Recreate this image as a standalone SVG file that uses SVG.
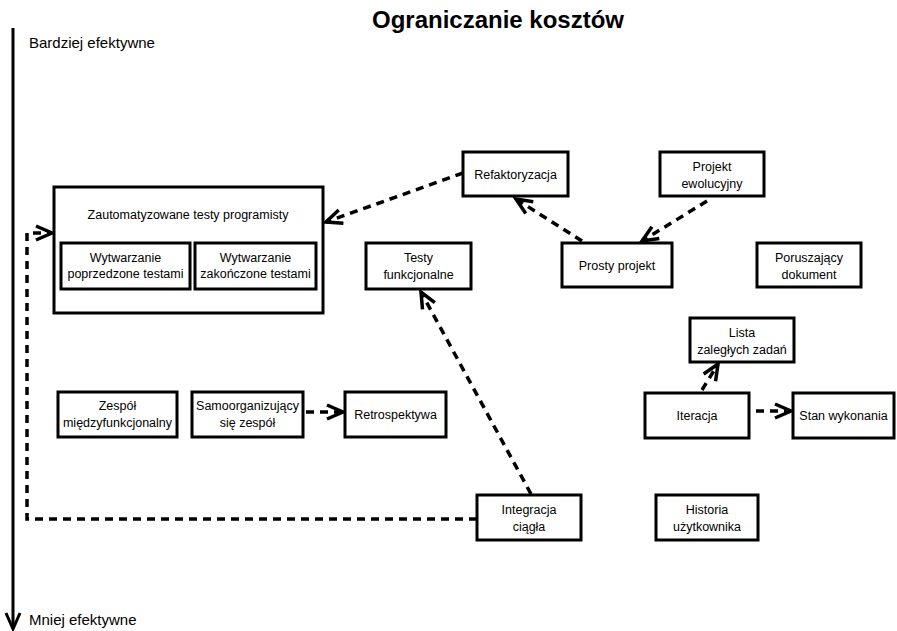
<svg xmlns="http://www.w3.org/2000/svg" width="897" height="631" viewBox="0 0 897 631">
<style>
.box{fill:#fff;stroke:#000;stroke-width:3}
.lbl{font-family:"Liberation Sans",Arial,sans-serif;font-size:12.5px;text-anchor:middle;fill:#000}
.ax{font-family:"Liberation Sans",Arial,sans-serif;font-size:15px;fill:#000}
.con{fill:none;stroke:#000;stroke-width:3.5;stroke-dasharray:8 6}
</style>
<defs>
<marker id="arr" markerUnits="userSpaceOnUse" markerWidth="24" markerHeight="20" viewBox="-20 -10 24 20" refX="0" refY="0" orient="auto" overflow="visible">
<path d="M-16,-7 L0,0 L-16,7" fill="none" stroke="#000" stroke-width="3.5" stroke-linejoin="miter"/>
</marker>
</defs>
<rect width="897" height="631" fill="#fff"/>
<text x="498" y="28" font-family="Liberation Sans, Arial, sans-serif" font-size="24" font-weight="bold" text-anchor="middle">Ograniczanie kosztów</text>
<g id="axis">
<line x1="13" y1="28" x2="13" y2="628" stroke="#000" stroke-width="3"/>
<path d="M6,613 L13,629 L20,613" fill="none" stroke="#000" stroke-width="3"/>
<text class="ax" x="29" y="48">Bardziej efektywne</text>
<text class="ax" x="29" y="625">Mniej efektywne</text>
</g>
<g id="connectors">
<path class="con" d="M463,173 L326,222" marker-end="url(#arr)"/>
<path class="con" d="M582,241 L516,199" marker-end="url(#arr)"/>
<path class="con" d="M707,201 L642,241" marker-end="url(#arr)"/>
<path class="con" d="M531,494 L421,292" marker-end="url(#arr)"/>
<path class="con" d="M477,519 H27 V233 H52" marker-end="url(#arr)"/>
<path class="con" d="M306,412 H343" marker-end="url(#arr)"/>
<path class="con" d="M702,390 L718,364" marker-end="url(#arr)"/>
<path class="con" d="M756,411 H791" marker-end="url(#arr)"/>
</g>
<g id="zauto">
<rect class="box" x="54" y="187" width="269" height="126"/>
<text class="lbl" x="188" y="219">Zautomatyzowane testy programisty</text>
</g>
<g id="tdd">
<rect class="box" x="61" y="243" width="129" height="46"/>
<text class="lbl" x="125.5" y="262">Wytwarzanie</text>
<text class="lbl" x="125.5" y="278">poprzedzone testami</text>
</g>
<g id="tad">
<rect class="box" x="195" y="243" width="121" height="46"/>
<text class="lbl" x="255.5" y="262">Wytwarzanie</text>
<text class="lbl" x="255.5" y="278">zakończone testami</text>
</g>
<g id="refak">
<rect class="box" x="463" y="152" width="105" height="44"/>
<text class="lbl" x="515.5" y="179">Refaktoryzacja</text>
</g>
<g id="projekt">
<rect class="box" x="660" y="152" width="104" height="44"/>
<text class="lbl" x="712" y="171">Projekt</text>
<text class="lbl" x="712" y="188">ewolucyjny</text>
</g>
<g id="prosty">
<rect class="box" x="562" y="243" width="110" height="44"/>
<text class="lbl" x="617" y="270">Prosty projekt</text>
</g>
<g id="porusz">
<rect class="box" x="757" y="243" width="104" height="44"/>
<text class="lbl" x="809" y="262">Poruszający</text>
<text class="lbl" x="809" y="279">dokument</text>
</g>
<g id="testyf">
<rect class="box" x="366" y="243" width="105" height="46"/>
<text class="lbl" x="418.5" y="262">Testy</text>
<text class="lbl" x="418.5" y="279">funkcjonalne</text>
</g>
<g id="zespol">
<rect class="box" x="58" y="392" width="119" height="45"/>
<text class="lbl" x="117.5" y="410">Zespół</text>
<text class="lbl" x="117.5" y="427">międzyfunkcjonalny</text>
</g>
<g id="samoorg">
<rect class="box" x="192" y="392" width="111" height="45"/>
<text class="lbl" x="247.5" y="410">Samoorganizujący</text>
<text class="lbl" x="247.5" y="427">się zespół</text>
</g>
<g id="retro">
<rect class="box" x="345" y="392" width="101" height="45"/>
<text class="lbl" x="395.5" y="419">Retrospektywa</text>
</g>
<g id="lista">
<rect class="box" x="690" y="318" width="104" height="44"/>
<text class="lbl" x="742" y="337">Lista</text>
<text class="lbl" x="742" y="354">zaległych zadań</text>
</g>
<g id="iter">
<rect class="box" x="645" y="393" width="104" height="45"/>
<text class="lbl" x="697" y="420">Iteracja</text>
</g>
<g id="stan">
<rect class="box" x="793" y="393" width="101" height="45"/>
<text class="lbl" x="843.5" y="420">Stan wykonania</text>
</g>
<g id="integ">
<rect class="box" x="477" y="495" width="104" height="45"/>
<text class="lbl" x="529" y="514">Integracja</text>
<text class="lbl" x="529" y="531">ciągła</text>
</g>
<g id="hist">
<rect class="box" x="656" y="495" width="102" height="45"/>
<text class="lbl" x="707" y="514">Historia</text>
<text class="lbl" x="707" y="531">użytkownika</text>
</g>
</svg>
